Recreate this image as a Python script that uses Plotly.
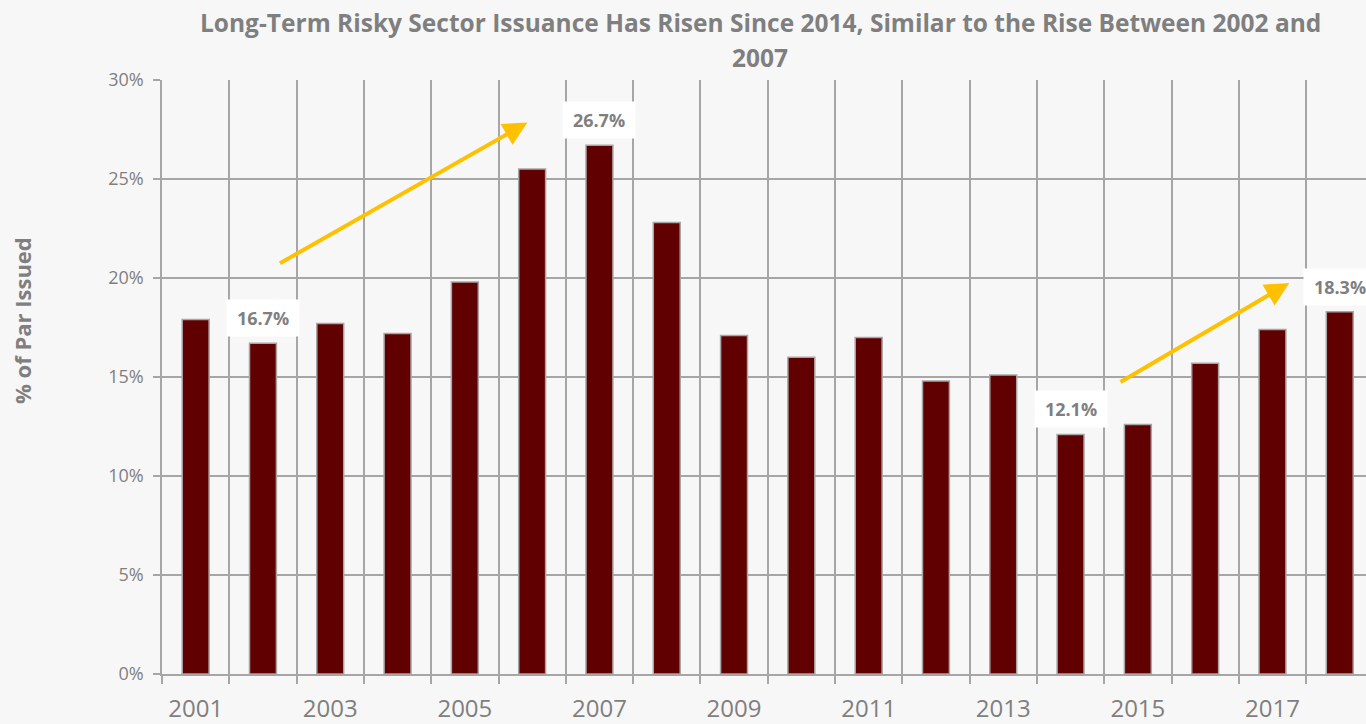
import plotly.graph_objects as go

# -----------------------------------------------------
# DATA
# -----------------------------------------------------

years = [
    2001, 2002, 2003, 2004, 2005, 2006, 2007, 2008, 2009,
    2010, 2011, 2012, 2013, 2014, 2015, 2016, 2017, 2018
]

pct_par_issued = [
    17.9, 16.7, 17.7, 17.2, 19.8, 25.5, 26.7, 22.8, 17.1,
    16.0, 17.0, 14.8, 15.1, 12.1, 12.6, 15.7, 17.4, 18.3
]

labelled_years = [2002, 2007, 2014, 2018]

tick_years = years[::2]

# arrows: (x tail, y tail, x head, y head)
trend_arrows = [
    (2002.23, 20.7, 2005.93, 27.85),
    (2014.72, 14.7, 2017.25, 19.75),
]

title_line1 = (
    "Long-Term Risky Sector Issuance Has Risen Since 2014, "
    "Similar to the Rise Between 2002 and"
)
title_line2 = "2007"

GREY = "#7F7F7F"
GRID = "#A6A6A6"
BG = "#F7F7F7"
FONT = "Open Sans"

# -----------------------------------------------------
# FIGURE
# -----------------------------------------------------

fig = go.Figure()

fig.add_trace(

    go.Bar(

        x=years,

        y=pct_par_issued,

        width=0.4,

        marker=dict(
            color="#600000",
            line=dict(color=GRID, width=1.5)
        ),

        showlegend=False

    )

)

# value boxes
for yr in labelled_years:

    val = pct_par_issued[years.index(yr)]

    fig.add_annotation(
        x=yr,
        y=val,
        text="<b>%.1f%%</b>" % val,
        showarrow=False,
        xanchor="center",
        yanchor="middle",
        yshift=25,
        width=70,
        height=34,
        bgcolor="white",
        font=dict(family=FONT, size=18, color=GREY)
    )

# yellow trend arrows
for x0, y0, x1, y1 in trend_arrows:

    fig.add_annotation(
        x=x1,
        y=y1,
        ax=x0,
        ay=y0,
        xref="x",
        yref="y",
        axref="x",
        ayref="y",
        text="",
        showarrow=True,
        arrowhead=2,
        arrowsize=1.2,
        arrowwidth=4,
        arrowcolor="#FFC000"
    )

# title (two lines)
fig.add_annotation(
    text="<b>" + title_line1 + "</b>",
    xref="paper", yref="paper",
    x=0.497, y=1.097,
    showarrow=False,
    xanchor="center", yanchor="middle",
    font=dict(family=FONT, size=24.5, color=GREY)
)

fig.add_annotation(
    text="<b>" + title_line2 + "</b>",
    xref="paper", yref="paper",
    x=0.497, y=1.0385,
    showarrow=False,
    xanchor="center", yanchor="middle",
    font=dict(family=FONT, size=24.5, color=GREY)
)

# y axis title
fig.add_annotation(
    text="<b>% of Par Issued</b>",
    xref="paper", yref="paper",
    x=-0.1163, y=0.596,
    textangle=-90,
    showarrow=False,
    xanchor="center", yanchor="middle",
    font=dict(family=FONT, size=22, color=GREY)
)

fig.update_layout(

    width=1366,

    height=724,

    margin=dict(l=162, r=0, t=80, b=47),

    paper_bgcolor=BG,

    plot_bgcolor=BG,

    font=dict(family=FONT, color=GREY),

    xaxis=dict(
        range=[2000.5, 2018.39],
        tickvals=tick_years,
        ticks="",
        showgrid=False,
        zeroline=False,
        showline=True,
        linecolor=GRID,
        linewidth=1.5,
        ticklabelstandoff=12,
        tickfont=dict(size=24, color=GREY),
        minor=dict(
            tick0=2000.5,
            dtick=1,
            showgrid=True,
            gridcolor=GRID,
            gridwidth=1.5,
            ticks="outside",
            ticklen=8,
            tickcolor=GRID,
            tickwidth=1.5
        )
    ),

    yaxis=dict(
        range=[0, 30],
        dtick=5,
        ticksuffix="%",
        showgrid=True,
        gridcolor=GRID,
        gridwidth=1.5,
        zeroline=False,
        showline=True,
        linecolor=GRID,
        linewidth=1.5,
        ticks="outside",
        ticklen=7,
        tickcolor=GRID,
        tickwidth=1.5,
        ticklabelstandoff=6,
        tickfont=dict(size=18, color=GREY)
    ),

    bargap=0.6

)

# page fills the window exactly, no body margin or scrollbar
fig.write_html(
    "out.html",
    config={"displayModeBar": False},
    post_script="document.body.style.margin='0';"
                "document.body.style.overflow='hidden';"
)
